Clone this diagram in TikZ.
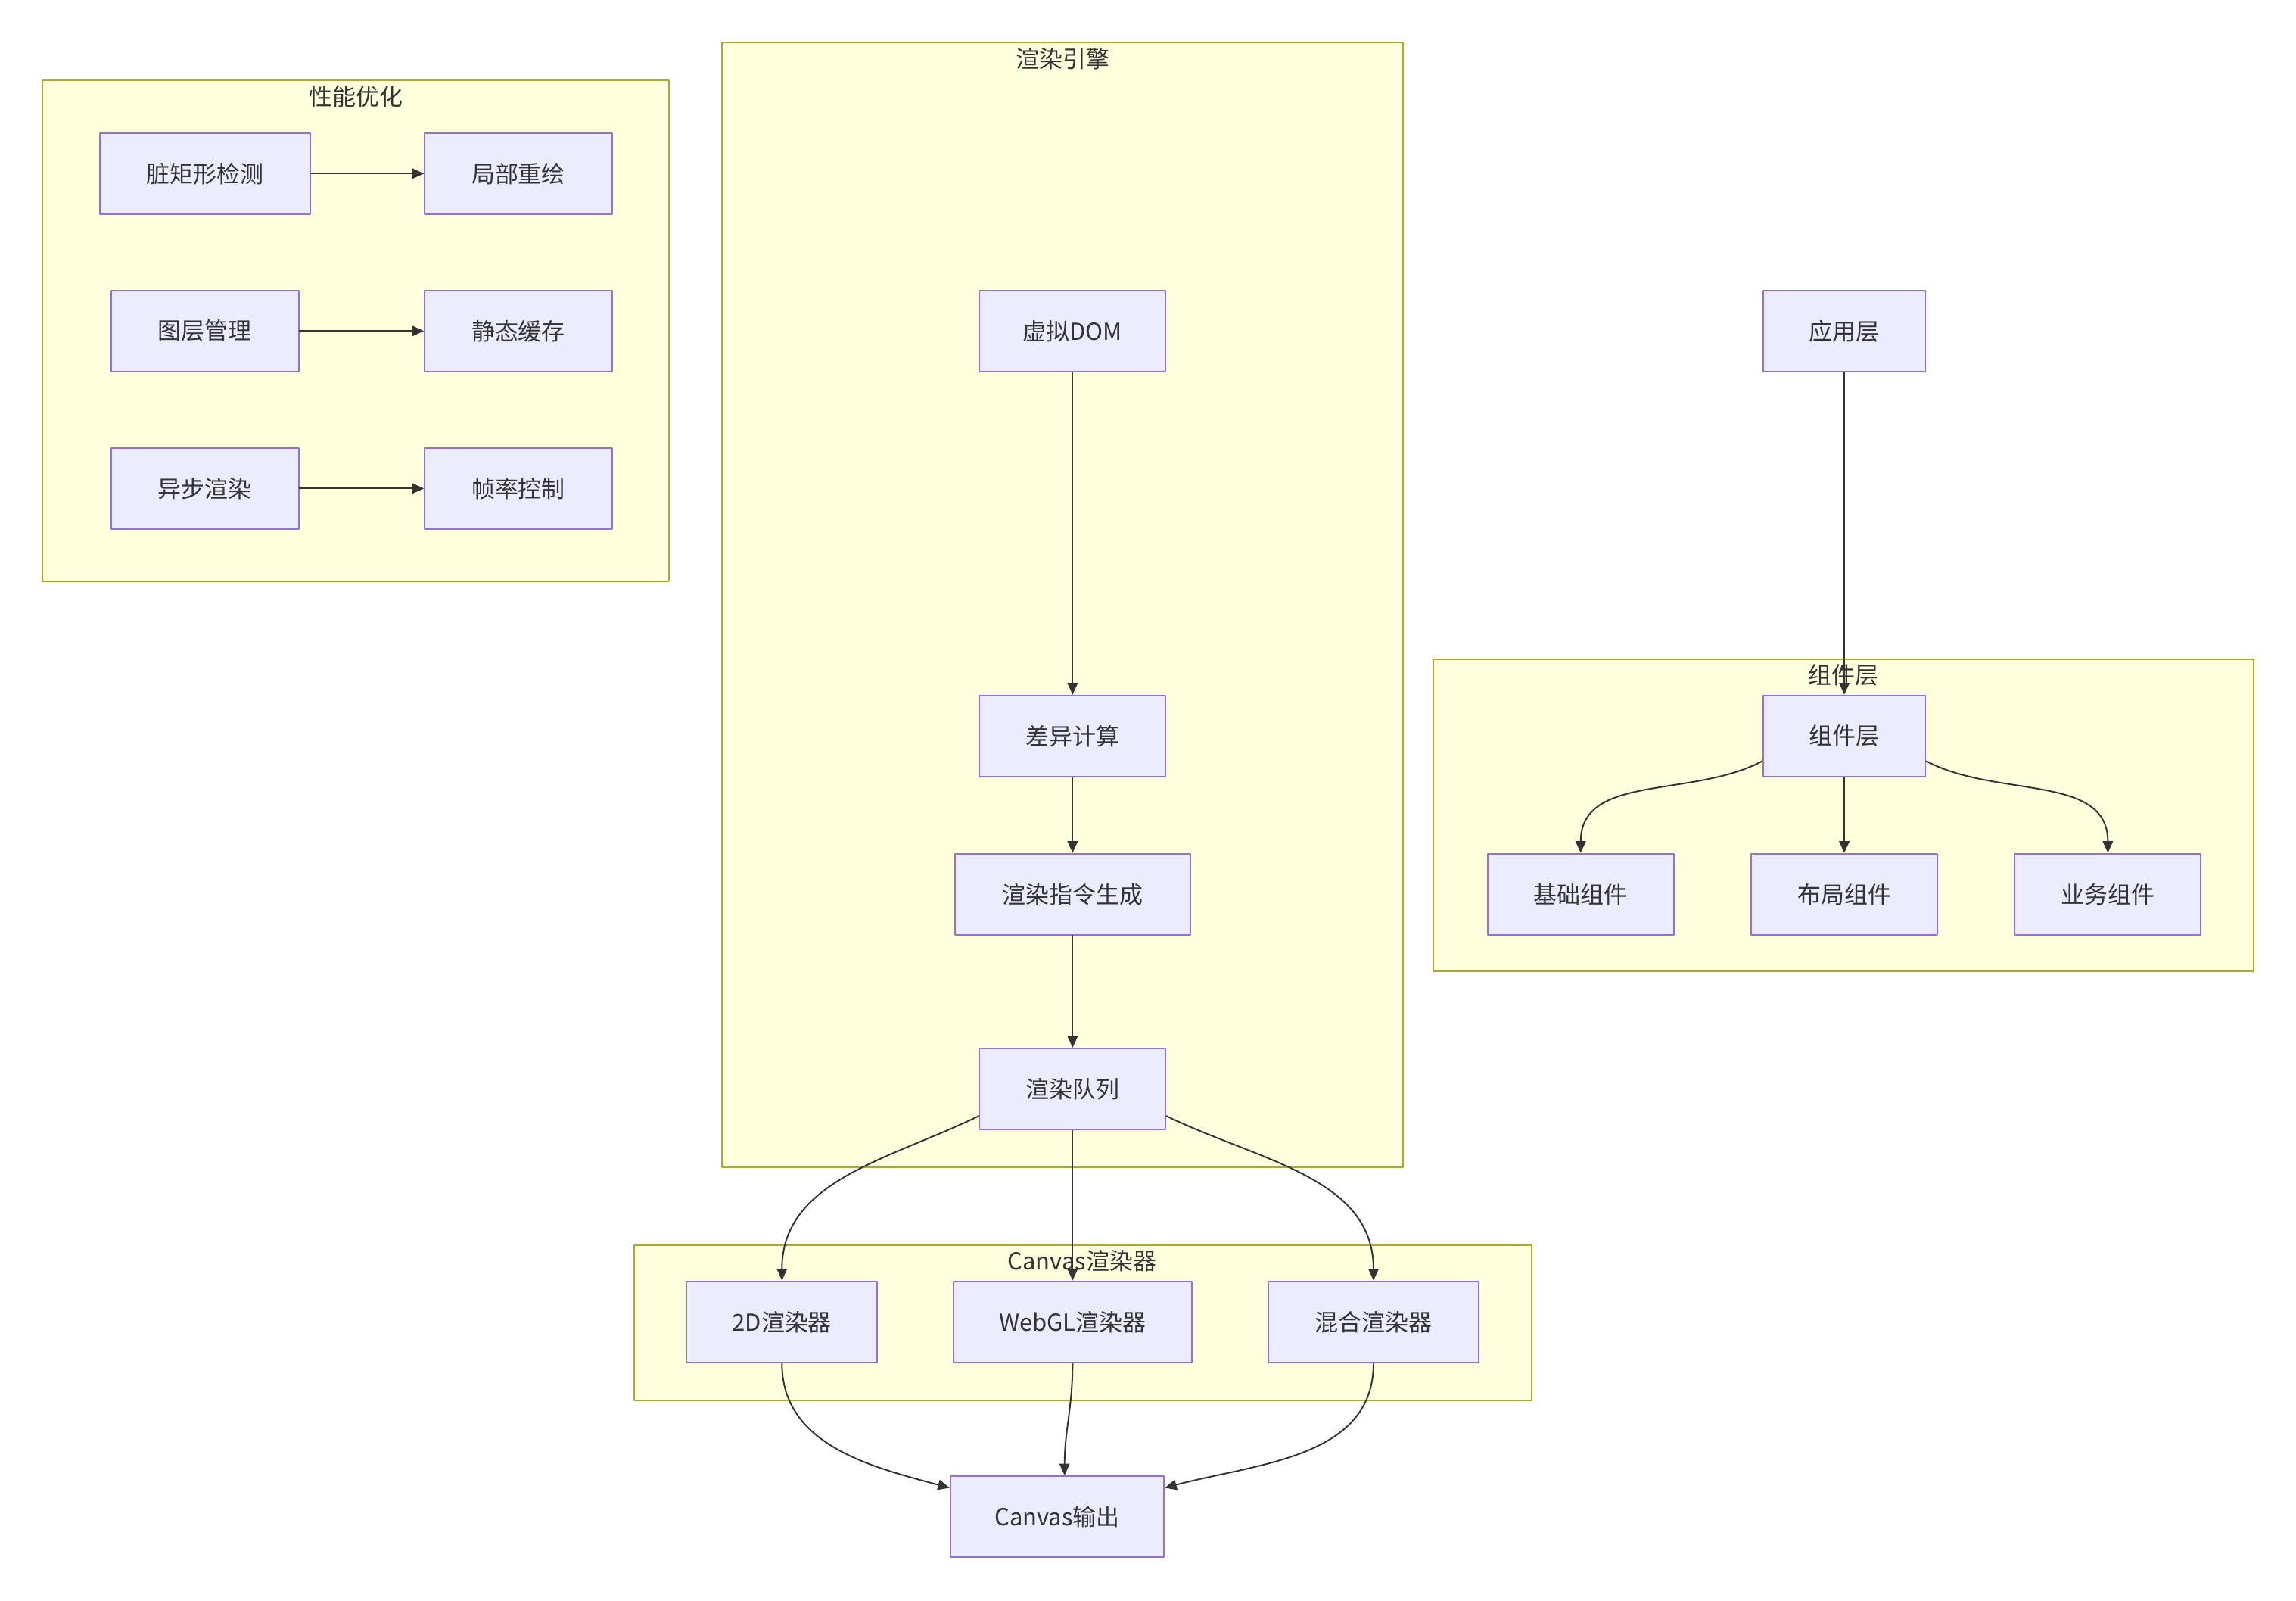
\documentclass[tikz,border=0pt]{standalone}
\usepackage{fontspec}
\setmainfont{Noto Sans CJK SC}
\usetikzlibrary{arrows.meta}
\definecolor{clfill}{HTML}{FFFFDE}
\definecolor{cldraw}{HTML}{AAAA33}
\definecolor{nfill}{HTML}{ECECFF}
\definecolor{ndraw}{HTML}{9370DB}
\definecolor{ink}{HTML}{333333}
\tikzset{
  cluster/.style={fill=clfill, draw=cldraw, line width=1pt},
  cltitle/.style={text=ink, font=\fontsize{16}{19}\selectfont, inner sep=0pt},
  box/.style={fill=nfill, draw=ndraw, line width=1pt, text=ink, font=\fontsize{16}{19}\selectfont, minimum height=55.5pt, inner xsep=4pt},
  arr/.style={draw=ink, line width=1pt, -{Triangle[length=8pt,width=7pt]}},
}

\begin{document}
\begin{tikzpicture}[x=1pt, y=1pt, line cap=round, line join=round]
                \useasboundingbox (0,0) rectangle (1568,-1093);
                % subgraph frames
                \draw[cluster] (29,-55) rectangle (457,-397);
                \draw[cluster] (493,-29) rectangle (958,-797);
                \draw[cluster] (433,-850) rectangle (1046,-956);
                \draw[cluster] (979,-450) rectangle (1539,-663);
                \node[cltitle] (tperf) at (243,-66) {性能优化};
                \node[cltitle] (teng) at (726,-40) {渲染引擎};
                \node[cltitle] (tcanvas) at (739,-861) {Canvas渲染器};
                \node[cltitle] (tcomp) at (1259,-461) {组件层};
                % performance
                \node[box, minimum width=144pt] (dirty) at (140,-118.5) {脏矩形检测};
                \node[box, minimum width=128pt] (redraw) at (354,-118.5) {局部重绘};
                \node[box, minimum width=128pt] (layer) at (140,-226) {图层管理};
                \node[box, minimum width=128pt] (cache) at (354,-226) {静态缓存};
                \node[box, minimum width=128pt] (async) at (140,-333.5) {异步渲染};
                \node[box, minimum width=128pt] (fps) at (354,-333.5) {帧率控制};
                % engine
                \node[box, minimum width=127pt] (vdom) at (732.5,-226) {虚拟DOM};
                \node[box, minimum width=127pt] (diff) at (732.5,-502.5) {差异计算};
                \node[box, minimum width=161pt] (cmd) at (732.5,-610.5) {渲染指令生成};
                \node[box, minimum width=127pt] (queue) at (732.5,-743.5) {渲染队列};
                % renderers
                \node[box, minimum width=130pt] (r2d) at (534,-902.5) {2D渲染器};
                \node[box, minimum width=163pt] (webgl) at (732.5,-902.5) {WebGL渲染器};
                \node[box, minimum width=144pt] (mix) at (938,-902.5) {混合渲染器};
                \node[box, minimum width=146pt] (out) at (722,-1035.5) {Canvas输出};
                % components
                \node[box, minimum width=111pt] (app) at (1259.5,-226) {应用层};
                \node[box, minimum width=111pt] (comp) at (1259.5,-502.5) {组件层};
                \node[box, minimum width=127pt] (base) at (1079.5,-610.5) {基础组件};
                \node[box, minimum width=127pt] (layout) at (1259.5,-610.5) {布局组件};
                \node[box, minimum width=127pt] (biz) at (1439.5,-610.5) {业务组件};
                % edges
                \foreach \from/\to in {dirty/redraw, layer/cache, async/fps, vdom/diff, diff/cmd, cmd/queue, queue/webgl, app/comp, comp/layout}
                    \draw[arr] (\from) -- (\to);
                \draw[arr] (queue.196) to[out=206, in=90] (r2d.north);
                \draw[arr] (queue.-16) to[out=-26, in=90] (mix.north);
                \draw[arr] (r2d.south) to[out=-90, in=165] (out.165);
                \draw[arr] (webgl.south) to[out=-90, in=90] ([xshift=5pt]out.north);
                \draw[arr] (mix.south) to[out=-90, in=15] (out.15);
                \draw[arr] (comp.197) to[out=208, in=90] (base.north);
                \draw[arr] (comp.-17) to[out=-28, in=90] (biz.north);
            \end{tikzpicture}
\end{document}
